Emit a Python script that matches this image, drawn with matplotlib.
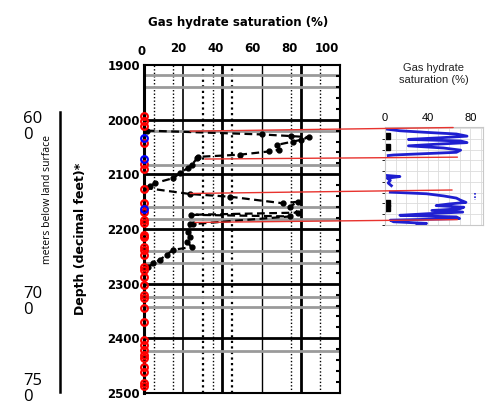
import matplotlib
matplotlib.use("Agg")
import matplotlib.pyplot as plt
from matplotlib.patches import ConnectionPatch
from matplotlib.ticker import MultipleLocator

# --- main log: black saturation trace (percent, depth ft) ---
trace_sat = [1.4, 60, 75, 84, 80, 76, 68, 69, 64, 49, 27.6, 27, 24.3, 22.4, 18.4,
             14.8, 5.6, 3, 1, 23.5, 44, 71, 78.7, 74.5, 78.7, 24, 74.5, 25,
             23.5, 22.6, 23.5, 21.8, 24.3, 15, 11.6, 8.2, 4.7, 2.2]
trace_depth = [2020, 2027, 2030, 2032, 2037, 2040, 2046, 2055, 2058, 2064, 2068,
               2071, 2083, 2088, 2098, 2107, 2116, 2122, 2125, 2136, 2141, 2153,
               2150, 2159, 2170, 2174, 2177, 2191, 2191, 2205, 2214, 2223, 2233,
               2238, 2247, 2256, 2263, 2269]

# zero-saturation samples on the left edge
red_depth = [1994, 2003, 2012, 2043, 2081, 2090, 2126, 2153, 2168, 2183, 2189,
             2211, 2214, 2233, 2238, 2247, 2269, 2275, 2287, 2302, 2320, 2327,
             2345, 2371, 2403, 2412, 2421, 2430, 2436, 2452, 2461, 2482, 2488]
blue_depth = [2034, 2072, 2164]

# grid of the scanned log
solid_x = [20, 40, 60, 80]
solid_x_lw = [1.2, 2.0, 1.0, 2.0]
dotted_x = [5, 15, 30, 35, 45, 75, 90]
dotted_x_lw = [1.0, 1.0, 1.6, 1.0, 1.6, 1.0, 1.0]
black_y = [2000, 2100, 2200, 2300, 2400]
gray_y = [1918, 1941, 2020, 2082, 2160, 2182, 2241, 2263, 2324, 2343, 2424]

top_ticks = [0, 20, 40, 60, 80, 100]
depth_ticks = [1900, 2000, 2100, 2200, 2300, 2400, 2500]

# --- inset: saturation profile ---
inset_depth_a = [2022, 2025, 2028, 2031, 2035, 2038, 2041, 2044, 2047, 2050,
                 2053, 2057, 2061, 2065, 2070, 2071]
inset_sat_a = [1.6, 14, 39, 67, 77, 52, 22, 71, 77, 48, 22, 55, 71, 67, 8, 3]
inset_depth_b = [2108, 2110, 2113, 2117, 2122, 2127]
inset_sat_b = [1.6, 14, 2, 5, 3, 6]
inset_depth_c = [2139, 2142, 2146, 2150, 2154, 2158, 2161, 2164, 2167, 2170,
                 2173, 2176, 2179, 2182, 2185, 2188, 2191, 2194, 2197, 2198]
inset_sat_c = [5, 39, 55, 67, 71, 76, 60, 48, 74, 70, 44, 73, 40, 14, 67, 70,
               5, 8, 39, 30]
inset_sq_depth = [2035, 2056, 2160, 2169]
inset_ticks = [0, 40, 80]

# red tie lines: main (sat, depth) -> inset (sat, depth)
tie_main_sat = [23.5, 31, 23.5, 26]
tie_main_depth = [2021, 2072, 2135, 2188]
tie_inset_sat = [64, 68, 63, 68]
tie_inset_depth = [2019, 2074, 2135, 2190]

# meters scale on the far left
meter_ticks = [600, 700, 750]
meter_labels = ["60\n0", "70\n0", "75\n0"]

RED = "#e8332e"
BLUE = "#1f1fd0"

fig = plt.figure(figsize=(4.91, 4.13), dpi=100)

ax = fig.add_axes([0.2933, 0.0484, 0.3992, 0.7942])
ax.set_xlim(0, 100)
ax.set_ylim(2500, 1900)

for x, lw in zip(solid_x, solid_x_lw):
    ax.axvline(x, color="black", lw=lw, zorder=1)
for x, lw in zip(dotted_x, dotted_x_lw):
    ax.axvline(x, color="black", lw=lw, ls=(0, (1, 1.5)), zorder=1)
for y in gray_y:
    ax.axhline(y, color="#9a9a9a", lw=2, zorder=1)
for y in black_y:
    ax.axhline(y, color="black", lw=2, zorder=1.5)

ax.plot(trace_sat, trace_depth, color="black", lw=1.6, ls=(0, (3.5, 2)),
        marker="o", ms=3.5, zorder=3)
ax.plot([0] * len(red_depth), red_depth, ls="none", marker="o", ms=4.8,
        mfc="none", mec="red", mew=1.6, clip_on=False, zorder=4)
ax.plot([0] * len(blue_depth), blue_depth, ls="none", marker="o", ms=4.8,
        mfc="none", mec="blue", mew=1.6, clip_on=False, zorder=4)

for s in ["top", "right", "bottom"]:
    ax.spines[s].set_linewidth(1.5)
ax.spines["left"].set_linewidth(2.2)

# the printed percent labels sit on a slightly tighter scale than the grid
ax.xaxis.tick_top()
ax.set_xticks([v * 0.944 - 1.3 for v in top_ticks[1:]])
ax.set_xticklabels([str(v) for v in top_ticks[1:]])
ax.set_yticks(depth_ticks)
ax.yaxis.set_minor_locator(MultipleLocator(20))
ax.tick_params(axis="x", length=0, pad=7, labelsize=8.5)
ax.tick_params(axis="y", which="major", length=0, pad=3, labelsize=8.5)
ax.tick_params(axis="y", which="minor", left=False, right=True,
               direction="in", length=3, width=1.5)
for t in ax.get_xticklabels() + ax.get_yticklabels():
    t.set_fontweight("bold")
# the "0" label just left of the spine
ax.text(top_ticks[0] - 1.3, 1.022, str(top_ticks[0]),
        transform=ax.get_xaxis_transform(), ha="center", va="bottom",
        fontsize=8.5, fontweight="bold")

ax.set_title("Gas hydrate saturation (%)", fontsize=8.5, fontweight="bold",
             pad=28, x=0.48)
ax.set_ylabel("Depth (decimal feet)*", fontsize=9, fontweight="bold")
ax.yaxis.set_label_coords(-0.29, 0.47)

# inset
axin = fig.add_axes([0.7841, 0.4552, 0.1996, 0.2373])
axin.set_xlim(0, 92)
axin.set_ylim(2200, 2018)
axin.xaxis.set_minor_locator(MultipleLocator(10))
axin.yaxis.set_minor_locator(MultipleLocator(20))
axin.grid(which="both", color="#dcdcdc", lw=0.6)
axin.set_axisbelow(True)
axin.plot(inset_sat_a, inset_depth_a, color=BLUE, lw=2)
axin.plot(inset_sat_b, inset_depth_b, color=BLUE, lw=2)
axin.plot(inset_sat_c, inset_depth_c, color=BLUE, lw=2)
axin.plot([1.5] * len(inset_sq_depth), inset_sq_depth, ls="none", marker="s",
          ms=4.5, color="black")
axin.plot([84.7, 84.7], [2141, 2153], color=BLUE, lw=1.2, ls=(0, (1, 1)))
for s in axin.spines.values():
    s.set_color("#c8c8c8")
axin.xaxis.tick_top()
axin.set_xticks(inset_ticks)
axin.set_yticks([])
axin.tick_params(axis="x", which="both", length=0, pad=3, labelsize=8)
for t in axin.get_xticklabels():
    t.set_fontfamily("Liberation Sans")
axin.set_title("Gas hydrate\nsaturation (%)", fontsize=8,
               fontfamily="Liberation Sans", pad=32, color="#222222")

for xa, ya, xb, yb in zip(tie_main_sat, tie_main_depth, tie_inset_sat,
                          tie_inset_depth):
    con = ConnectionPatch(xyA=(xa, ya), coordsA=ax.transData,
                          xyB=(xb, yb), coordsB=axin.transData,
                          color=RED, lw=1, zorder=6)
    fig.add_artist(con)

# meters scale
axm = fig.add_axes([0.1222, 0.0509, 0.001, 0.678])
axm.set_ylim(752.6, 592.6)
axm.set_xticks([])
for s in ["top", "right", "bottom"]:
    axm.spines[s].set_visible(False)
axm.spines["left"].set_linewidth(1.8)
axm.set_yticks(meter_ticks)
axm.set_yticklabels(meter_labels)
axm.tick_params(axis="y", length=0, pad=13, labelsize=12)
for t in axm.get_yticklabels():
    t.set_fontfamily("Open Sans")
    t.set_multialignment("left")
    t.set_linespacing(1.0)
fig.text(48 / 491, 1 - 200 / 413, "meters below land surface", rotation=90,
         ha="center", va="center", fontsize=7.5, fontfamily="Open Sans")

fig.savefig("out.png", dpi=100)
